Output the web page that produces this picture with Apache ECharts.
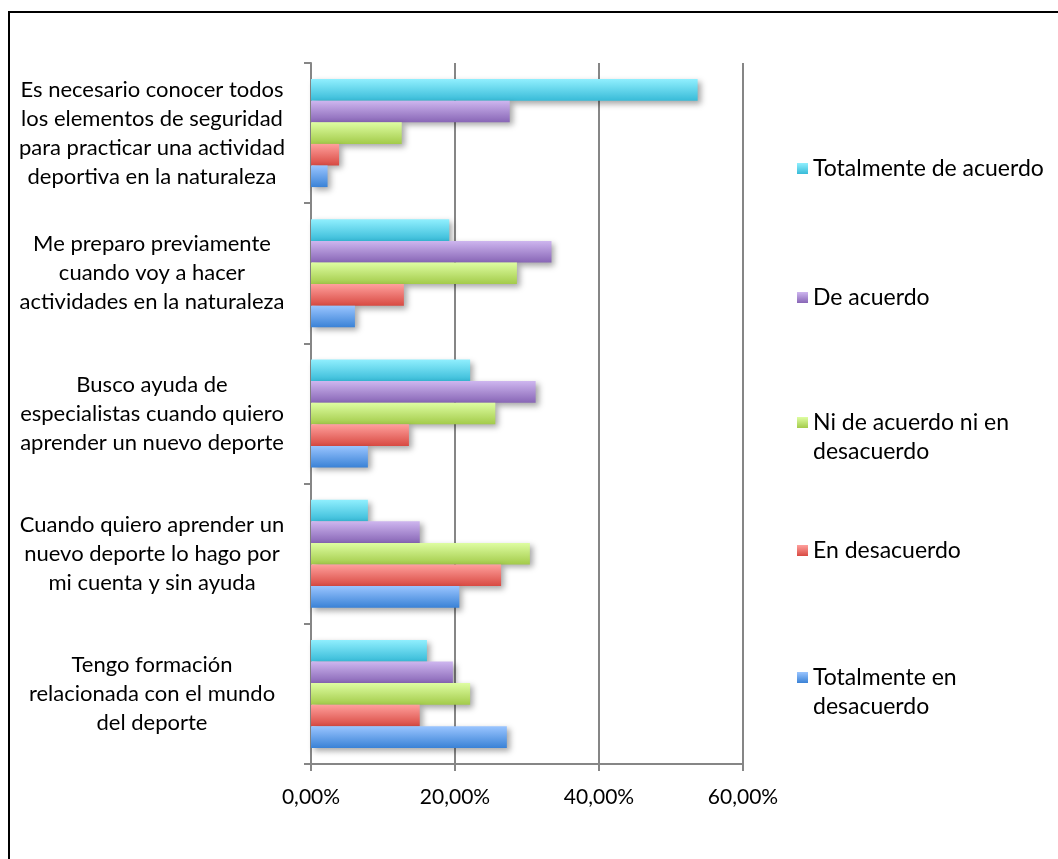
<!DOCTYPE html>
<html>
<head>
<meta charset="utf-8">
<script src="https://cdn.jsdelivr.net/npm/echarts@6/dist/echarts.min.js"></script>
<style>
  html, body { margin: 0; padding: 0; background: #fff; }
  #chart { width: 1058px; height: 859px; }
</style>
</head>
<body>
<div id="chart"></div>
<script>
// Survey statements (top to bottom)
const categories = [
  'Es necesario conocer todos\nlos elementos de seguridad\npara practicar una actividad\ndeportiva en la naturaleza',
  'Me preparo previamente\ncuando voy a hacer\nactividades en la naturaleza',
  'Busco ayuda de\nespecialistas cuando quiero\naprender un nuevo deporte',
  'Cuando quiero aprender un\nnuevo deporte lo hago por\nmi cuenta y sin ayuda',
  'Tengo formación\nrelacionada con el mundo\ndel deporte'
];

// Answer options (legend order)
const seriesNames = [
  'Totalmente de acuerdo',
  'De acuerdo',
  'Ni de acuerdo ni en desacuerdo',
  'En desacuerdo',
  'Totalmente en desacuerdo'
];

// Percentages per statement, one array per answer option
const totalmenteDeAcuerdo   = [53.7, 19.2, 22.1,  7.9, 16.1];
const deAcuerdo             = [27.6, 33.4, 31.2, 15.1, 19.7];
const niDeAcuerdoNiEnDesac  = [12.6, 28.6, 25.6, 30.4, 22.1];
const enDesacuerdo          = [ 3.9, 12.9, 13.6, 26.4, 15.1];
const totalmenteEnDesac     = [ 2.3,  6.1,  7.9, 20.6, 27.2];

// Value-axis ticks
const tickValues = [0, 20, 40, 60];
const tickLabels = ['0,00%', '20,00%', '40,00%', '60,00%'];

const seriesValues = [totalmenteDeAcuerdo, deAcuerdo, niDeAcuerdoNiEnDesac, enDesacuerdo, totalmenteEnDesac];

// Light-to-dark vertical gradients for each answer option
const gradients = [
  ['#90effe', '#38bbd8'],
  ['#ceb6ef', '#8866b6'],
  ['#defda2', '#a3cb4a'],
  ['#ffa09d', '#d84a42'],
  ['#9ac5ff', '#3a82d6']
];

// Legend labels that wrap onto a second line. A leading empty line keeps
// the swatch level with the first line of text (the block is centred on it).
const legendLines = {
  'Ni de acuerdo ni en desacuerdo': '\u00a0\nNi de acuerdo ni en\ndesacuerdo',
  'Totalmente en desacuerdo': '\u00a0\nTotalmente en\ndesacuerdo'
};

const FONT = 'Lato';
const chart = echarts.init(document.getElementById('chart'), null, { renderer: 'canvas' });

const series = seriesNames.map((name, i) => ({
  name,
  type: 'bar',
  data: seriesValues[i],
  barGap: '0%',
  barCategoryGap: '23%',
  itemStyle: {
    color: new echarts.graphic.LinearGradient(0, 0, 0, 1, [
      { offset: 0, color: gradients[i][0] },
      { offset: 1, color: gradients[i][1] }
    ]),
    shadowColor: 'rgba(0,0,0,0.35)',
    shadowBlur: 6,
    shadowOffsetX: 3,
    shadowOffsetY: 3
  }
}));

// One legend block per answer, placed down the right-hand side
const legendItem = (name, top) => ({
  orient: 'vertical',
  left: 797,
  top,
  padding: 0,
  data: [name],
  itemWidth: 11,
  itemHeight: 11,
  icon: 'rect',
  formatter: n => legendLines[n] || n,
  textStyle: {
    fontFamily: FONT,
    fontSize: 23,
    color: '#000',
    lineHeight: 29
  }
});

chart.setOption({
  animation: false,
  backgroundColor: '#fff',
  textStyle: { fontFamily: FONT },
  graphic: [{
    type: 'rect',
    shape: { x: 9, y: 12, width: 1200, height: 1000 },
    style: { fill: 'none', stroke: '#000', lineWidth: 2 },
    silent: true,
    z: 100
  }],
  grid: { left: 311, right: 315, top: 63, bottom: 95, containLabel: false },
  legend: [
    legendItem(seriesNames[0], 154),
    legendItem(seriesNames[1], 283),
    legendItem(seriesNames[2], 379),
    legendItem(seriesNames[3], 536),
    legendItem(seriesNames[4], 634)
  ],
  xAxis: {
    type: 'value',
    min: 0,
    max: 60,
    interval: 20,
    axisLine: { show: true, lineStyle: { color: '#868686', width: 2 } },
    axisTick: { show: true, length: 7, lineStyle: { color: '#868686', width: 2 } },
    splitLine: { show: true, lineStyle: { color: '#868686', width: 2 } },
    axisLabel: {
      margin: 23,
      fontFamily: FONT,
      fontSize: 21,
      color: '#000',
      formatter: v => tickLabels[tickValues.indexOf(v)] ?? ''
    }
  },
  yAxis: {
    type: 'category',
    inverse: true,
    data: categories,
    axisLine: { show: true, lineStyle: { color: '#868686', width: 2 } },
    axisTick: { show: true, length: 7, lineStyle: { color: '#868686', width: 2 } },
    axisLabel: {
      margin: 159,
      align: 'center',
      fontFamily: FONT,
      fontSize: 22,
      lineHeight: 29,
      color: '#000'
    }
  },
  series
});
</script>
</body>
</html>
